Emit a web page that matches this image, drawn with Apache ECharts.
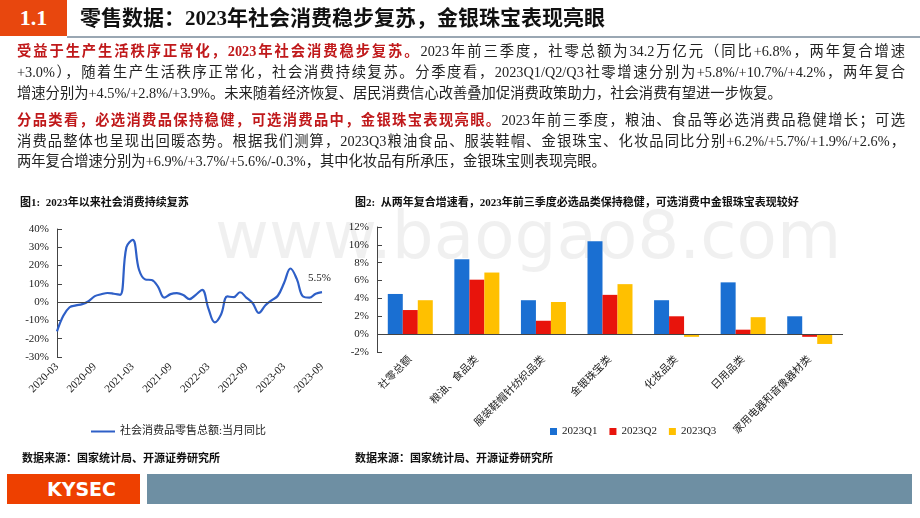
<!DOCTYPE html>
<html><head><meta charset="utf-8">
<script src="https://cdn.jsdelivr.net/npm/echarts@6/dist/echarts.min.js"></script>
<style>
body{margin:0;width:920px;height:518px;position:relative;background:#fff;overflow:hidden;font-family:"Liberation Serif","Noto Sans CJK SC",serif;}
.abs{position:absolute;}
#hdr{left:0;top:0;width:67px;height:36px;background:#e8470e;color:#fff;font-weight:bold;font-size:22px;line-height:36px;text-align:center;}
#ttl{left:80px;top:0;height:36px;line-height:36px;font-size:21px;font-weight:bold;color:#111;}
#rule{left:67px;top:36px;width:853px;height:2px;background:#9aa7b3;}
.ln{position:absolute;left:17px;width:888px;font-size:14.3px;line-height:20px;height:20px;color:#222;text-align:justify;text-align-last:justify;white-space:nowrap;}
.ln.last{text-align-last:left;}
.r{color:#c0191b;font-weight:bold;}
.ct{font-size:11px;font-weight:bold;color:#111;}
.src{font-size:11px;font-weight:bold;color:#111;}
#chart{left:0;top:0;width:920px;height:518px;}
</style></head><body>
<div id="chart" class="abs"></div>
<div id="hdr" class="abs">1.1</div>
<div id="ttl" class="abs">零售数据：2023年社会消费稳步复苏，金银珠宝表现亮眼</div>
<div id="rule" class="abs"></div>
<div class="ln" style="top:41px"><span class="r">受益于生产生活秩序正常化，2023年社会消费稳步复苏。</span>2023年前三季度，社零总额为34.2万亿元（同比+6.8%，两年复合增速</div>
<div class="ln" style="top:62px">+3.0%），随着生产生活秩序正常化，社会消费持续复苏。分季度看，2023Q1/Q2/Q3社零增速分别为+5.8%/+10.7%/+4.2%，两年复合</div>
<div class="ln last" style="top:83px">增速分别为+4.5%/+2.8%/+3.9%。未来随着经济恢复、居民消费信心改善叠加促消费政策助力，社会消费有望进一步恢复。</div>
<div class="ln" style="top:110px"><span class="r">分品类看，必选消费品保持稳健，可选消费品中，金银珠宝表现亮眼。</span>2023年前三季度，粮油、食品等必选消费品稳健增长；可选</div>
<div class="ln" style="top:131px">消费品整体也呈现出回暖态势。根据我们测算，2023Q3粮油食品、服装鞋帽、金银珠宝、化妆品同比分别+6.2%/+5.7%/+1.9%/+2.6%，</div>
<div class="ln last" style="top:151px">两年复合增速分别为+6.9%/+3.7%/+5.6%/-0.3%，其中化妆品有所承压，金银珠宝则表现亮眼。</div>
<div class="abs ct" style="left:20px;top:193px">图1:&nbsp; 2023年以来社会消费持续复苏</div>
<div class="abs ct" style="left:355px;top:193px">图2:&nbsp; 从两年复合增速看，2023年前三季度必选品类保持稳健，可选消费中金银珠宝表现较好</div>
<div class="abs src" style="left:22px;top:449px">数据来源：国家统计局、开源证券研究所</div>
<div class="abs src" style="left:355px;top:449px">数据来源：国家统计局、开源证券研究所</div>
<div class="abs" style="left:7px;top:474px;width:133px;height:30px;background:#ee4000;color:#fff;font-family:'DejaVu Sans',sans-serif;font-weight:bold;font-size:19px;line-height:30px;text-align:right;"><span style="margin-right:24px">KYSEC</span></div>
<div class="abs" style="left:147px;top:474px;width:765px;height:30px;background:#6e8fa3;"></div>
<script>
const months = ["2020-03","2020-04","2020-05","2020-06","2020-07","2020-08","2020-09","2020-10","2020-11","2020-12","2021-01","2021-02","2021-03","2021-04","2021-05","2021-06","2021-07","2021-08","2021-09","2021-10","2021-11","2021-12","2022-01","2022-02","2022-03","2022-04","2022-05","2022-06","2022-07","2022-08","2022-09","2022-10","2022-11","2022-12","2023-01","2023-02","2023-03","2023-04","2023-05","2023-06","2023-07","2023-08","2023-09"];
const retailYoY = [-16,-7.5,-2.8,-1.8,-1.1,0.5,3.3,4.3,5.0,4.6,4.0,30,34,17.7,12.4,12.1,8.5,2.5,4.4,4.9,3.9,1.7,4.0,6.7,-3.5,-11.1,-6.7,3.1,2.7,5.4,2.5,-0.5,-5.9,-1.8,1.0,3.5,10.6,18.4,12.7,3.1,2.5,4.6,5.5];
const categories = ["社零总额","粮油、食品类","服装鞋帽针纺织品类","金银珠宝类","化妆品类","日用品类","家用电器和音像器材类"];
const q1 = [4.5,8.4,3.8,10.4,3.8,5.8,2.0];
const q2 = [2.7,6.1,1.5,4.4,2.0,0.5,-0.3];
const q3 = [3.8,6.9,3.6,5.6,-0.3,1.9,-1.1];

const ff = '"Liberation Serif","Noto Sans CJK SC",serif';
const axisTxt = {color:'#222',fontFamily:ff,fontSize:11};
const chart = echarts.init(document.getElementById('chart'));
const zeroLine = {silent:true,symbol:'none',label:{show:false},lineStyle:{color:'#444',type:'solid',width:1},data:[{yAxis:0}]};
chart.setOption({
  animation:false,
  graphic:[{type:'text',left:215,top:208,z:-1,style:{text:'www.baogao8.com',fill:'rgba(0,0,0,0.06)',font:'66px "DejaVu Sans",sans-serif'}}],
  grid:[{left:57,top:229,width:265,height:128},{left:377,top:227,width:466,height:125}],
  legend:[
    {data:['社会消费品零售总额:当月同比'],left:86,top:421,itemWidth:24,itemHeight:2,icon:'rect',textStyle:{fontFamily:ff,fontSize:11,color:'#222'}},
    {data:['2023Q1','2023Q2','2023Q3'],left:545,top:421,itemWidth:7,itemHeight:7,itemGap:12,icon:'rect',textStyle:{fontFamily:ff,fontSize:11,color:'#222'}}
  ],
  xAxis:[
    {gridIndex:0,type:'category',data:months,boundaryGap:false,axisLine:{onZero:false,show:false},axisTick:{show:false},
     axisLabel:Object.assign({},axisTxt,{interval:5,rotate:45,margin:8})},
    {gridIndex:1,type:'category',data:categories,axisLine:{onZero:false,show:false},axisTick:{show:false},
     axisLabel:Object.assign({},axisTxt,{interval:0,rotate:45,margin:6,fontSize:10.5})}
  ],
  yAxis:[
    {gridIndex:0,type:'value',min:-30,max:40,interval:10,splitLine:{show:false},axisLine:{show:true,lineStyle:{color:'#444'}},axisTick:{show:true,inside:true},
     axisLabel:Object.assign({},axisTxt,{formatter:'{value}%'})},
    {gridIndex:1,type:'value',min:-2,max:12,interval:2,splitLine:{show:false},axisLine:{show:true,lineStyle:{color:'#444'}},axisTick:{show:true,inside:true},
     axisLabel:Object.assign({},axisTxt,{formatter:'{value}%'})}
  ],
  series:[
    {name:'社会消费品零售总额:当月同比',type:'line',xAxisIndex:0,yAxisIndex:0,data:retailYoY,smooth:0.4,symbol:'none',
     lineStyle:{color:'#2e5fc7',width:2.2},itemStyle:{color:'#2e5fc7'},
     endLabel:{show:true,formatter:'5.5%',offset:[-22,-14],color:'#222',fontFamily:ff,fontSize:11},
     markLine:zeroLine},
    {name:'2023Q1',type:'bar',xAxisIndex:1,yAxisIndex:1,data:q1,barWidth:15,barGap:'0%',itemStyle:{color:'#1a6fd2'},markLine:zeroLine},
    {name:'2023Q2',type:'bar',xAxisIndex:1,yAxisIndex:1,data:q2,barWidth:15,barGap:'0%',itemStyle:{color:'#e8140c'}},
    {name:'2023Q3',type:'bar',xAxisIndex:1,yAxisIndex:1,data:q3,barWidth:15,barGap:'0%',itemStyle:{color:'#ffc000'}}
  ]
});
</script>
</body></html>
